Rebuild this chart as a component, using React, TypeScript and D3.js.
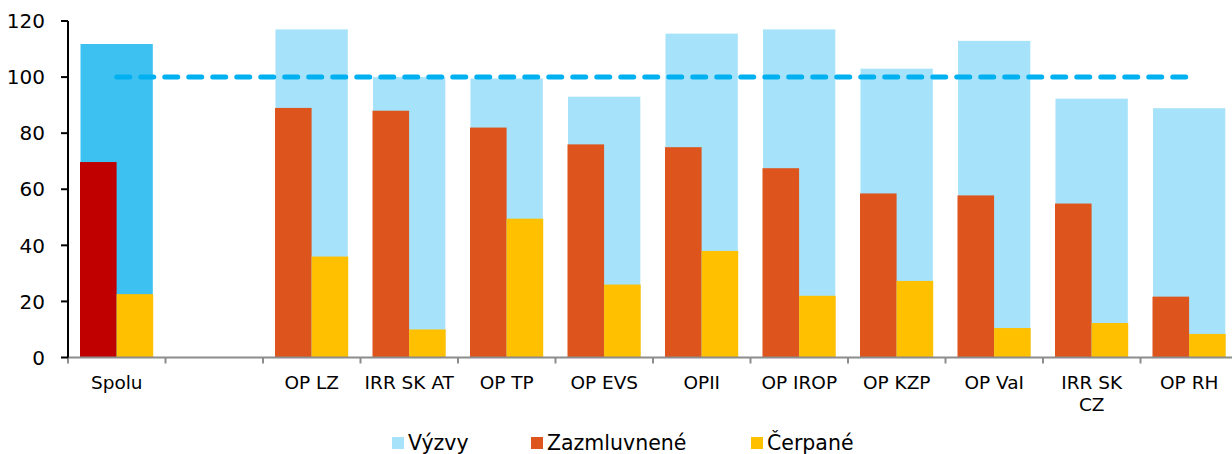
import React, { useEffect, useRef } from 'react';
import * as d3 from 'd3';

const categories = ['Spolu', '', 'OP LZ', 'IRR SK AT', 'OP TP', 'OP EVS', 'OPII', 'OP IROP', 'OP KZP', 'OP VaI', 'IRR SK\nCZ', 'OP RH'];
const vyzvy = [111.8, null, 117, 100, 99.5, 93, 115.5, 117, 103, 112.9, 92.3, 88.9];
const zazmluvnene = [69.7, null, 89, 88, 82, 76, 75, 67.5, 58.5, 57.8, 54.9, 21.7];
const cerpane = [22.6, null, 36, 10, 49.5, 26, 38, 22, 27.3, 10.5, 12.3, 8.4];
const target = [100, 100, 100, 100, 100, 100, 100, 100, 100, 100, 100, 100];
const yTicks = [0, 20, 40, 60, 80, 100, 120];
const legendNames = ['Výzvy', 'Zazmluvnené', 'Čerpané'];

const FONT = 'Verdana, "DejaVu Sans", sans-serif';

export default function App() {
  const ref = useRef<SVGSVGElement>(null);

  useEffect(() => {
    const svg = d3.select(ref.current);
    svg.selectAll('*').remove();

    const left = 68;
    const bandW = 97.5;
    const x = d3.scaleBand<string>()
      .domain(categories.map((c, i) => String(i)))
      .range([left, left + bandW * categories.length])
      .padding(0);
    const y = d3.scaleLinear().domain([0, 120]).range([357.5, 21]);

    const g = svg.append('g');

    // pair values with their category index, skip the empty slot
    const withIdx = (arr: (number | null)[]) =>
      arr.map((v, i) => ({ v, i })).filter(d => d.v != null) as { v: number; i: number }[];

    // výzvy (wide bars behind)
    g.selectAll('.vyzvy')
      .data(withIdx(vyzvy))
      .join('rect')
      .attr('x', d => x(String(d.i))! + 12.5)
      .attr('width', 72.3)
      .attr('y', d => y(d.v))
      .attr('height', d => y(0) - y(d.v))
      .attr('fill', d => (d.i === 0 ? '#3CC1F1' : '#A6E2F9'));

    // zazmluvnené
    g.selectAll('.zazm')
      .data(withIdx(zazmluvnene))
      .join('rect')
      .attr('x', d => x(String(d.i))! + 12)
      .attr('width', 36.6)
      .attr('y', d => y(d.v))
      .attr('height', d => y(0) - y(d.v))
      .attr('fill', d => (d.i === 0 ? '#C00000' : '#DD541D'));

    // čerpané
    g.selectAll('.cerp')
      .data(withIdx(cerpane))
      .join('rect')
      .attr('x', d => x(String(d.i))! + 48.6)
      .attr('width', 36.6)
      .attr('y', d => y(d.v))
      .attr('height', d => y(0) - y(d.v))
      .attr('fill', '#FFC000');

    // 100% line
    const line = d3.line<number>()
      .x((d, i) => x(String(i))! + bandW / 2)
      .y(d => y(d));
    g.append('path')
      .attr('d', line(target))
      .attr('fill', 'none')
      .attr('stroke', '#00B0F0')
      .attr('stroke-width', 5)
      .attr('stroke-linecap', 'round')
      .attr('stroke-dasharray', '13 11');

    // x axis
    const xAxis = svg.append('g');
    xAxis.append('line')
      .attr('x1', left).attr('x2', left + bandW * categories.length)
      .attr('y1', y(0)).attr('y2', y(0))
      .attr('stroke', '#8C8C8C').attr('stroke-width', 2);
    d3.range(categories.length + 1).forEach(i => {
      xAxis.append('line')
        .attr('x1', left + i * bandW).attr('x2', left + i * bandW)
        .attr('y1', y(0)).attr('y2', y(0) + 6)
        .attr('stroke', '#8C8C8C').attr('stroke-width', 2);
    });
    categories.forEach((c, i) => {
      const lines = c.split('\n');
      const t = xAxis.append('text')
        .attr('text-anchor', 'middle')
        .attr('font-family', FONT)
        .attr('font-size', 18.5)
        .attr('fill', '#000');
      lines.forEach((l, j) => {
        t.append('tspan')
          .attr('x', x(String(i))! + bandW / 2)
          .attr('y', 389 + j * 22)
          .text(l);
      });
    });

    // y axis
    const yAxis = svg.append('g');
    yAxis.append('line')
      .attr('x1', left).attr('x2', left)
      .attr('y1', y(120)).attr('y2', y(0))
      .attr('stroke', '#000').attr('stroke-width', 2);
    yTicks.forEach(t => {
      yAxis.append('line')
        .attr('x1', left - 7).attr('x2', left)
        .attr('y1', y(t)).attr('y2', y(t))
        .attr('stroke', '#000').attr('stroke-width', 2);
      yAxis.append('text')
        .attr('x', 45)
        .attr('y', y(t))
        .attr('dy', '0.36em')
        .attr('text-anchor', 'end')
        .attr('font-family', FONT)
        .attr('font-size', 20)
        .text(t);
    });

    // legend
    const legendX = [392, 531, 751];
    const legendColors = ['#A6E2F9', '#DD541D', '#FFC000'];
    const legend = svg.append('g');
    legendNames.forEach((n, i) => {
      legend.append('rect')
        .attr('x', legendX[i]).attr('y', 437)
        .attr('width', 12).attr('height', 12)
        .attr('fill', legendColors[i]);
      legend.append('text')
        .attr('x', legendX[i] + 16)
        .attr('y', 449.5)
        .attr('font-family', FONT)
        .attr('font-size', 20.5)
        .text(n);
    });
  }, []);

  return (
    <svg
      ref={ref}
      width={1232}
      height={454}
      style={{ position: 'absolute', left: 0, top: 0, background: '#fff' }}
    />
  );
}
